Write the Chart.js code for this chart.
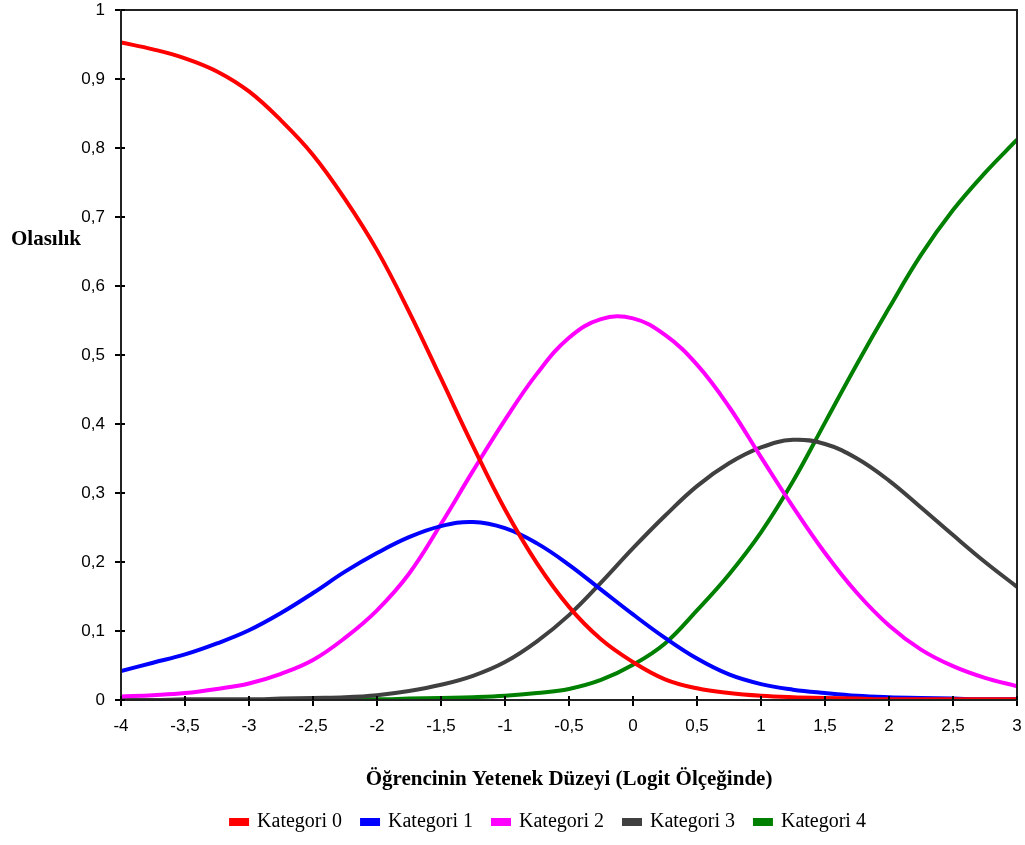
<!DOCTYPE html>
<html>
<head>
<meta charset="UTF-8">
<title>Kategori Olasılık Eğrileri</title>
<script src="https://cdn.jsdelivr.net/npm/chart.js@4.4.1/dist/chart.umd.min.js"></script>
<style>
    html, body { margin: 0; padding: 0; background: #fff; }
    #wrap { width: 1025px; height: 845px; }
</style>
</head>
<body>
<div id="wrap"><canvas id="chart" width="1025" height="845"></canvas></div>
<script>
// yetenek (logit) noktaları
var thetas = [-4, -3.75, -3.5, -3.25, -3, -2.75, -2.5, -2.25, -2, -1.75, -1.5, -1.25, -1, -0.75, -0.5,
              -0.25, 0, 0.25, 0.5, 0.75, 1, 1.25, 1.5, 1.75, 2, 2.25, 2.5, 2.75, 3];

var kategori0 = [0.953, 0.943, 0.930, 0.911, 0.882, 0.840, 0.790, 0.726, 0.652, 0.563, 0.466, 0.368, 0.276, 0.198, 0.135,
                 0.088, 0.055, 0.030, 0.017, 0.010, 0.006, 0.004, 0.003, 0.002, 0.001, 0.001, 0.001, 0.001, 0.001];
var kategori1 = [0.042, 0.054, 0.066, 0.082, 0.101, 0.126, 0.155, 0.186, 0.213, 0.236, 0.252, 0.258, 0.249, 0.227, 0.196,
                 0.160, 0.124, 0.090, 0.060, 0.037, 0.023, 0.015, 0.010, 0.006, 0.004, 0.003, 0.002, 0.001, 0.001];
var kategori2 = [0.005, 0.007, 0.010, 0.016, 0.024, 0.038, 0.058, 0.090, 0.130, 0.183, 0.255, 0.332, 0.406, 0.473, 0.525,
                 0.552, 0.553, 0.529, 0.486, 0.425, 0.352, 0.280, 0.213, 0.155, 0.108, 0.073, 0.049, 0.032, 0.020];
var kategori3 = [0.000, 0.000, 0.001, 0.001, 0.001, 0.002, 0.003, 0.004, 0.007, 0.013, 0.022, 0.035, 0.055, 0.085, 0.123,
                 0.170, 0.220, 0.267, 0.310, 0.343, 0.366, 0.377, 0.371, 0.350, 0.318, 0.279, 0.239, 0.200, 0.164];
var kategori4 = [0.000, 0.000, 0.000, 0.000, 0.000, 0.000, 0.001, 0.001, 0.001, 0.002, 0.003, 0.004, 0.006, 0.010, 0.016,
                 0.029, 0.051, 0.082, 0.130, 0.182, 0.243, 0.317, 0.402, 0.487, 0.568, 0.645, 0.710, 0.764, 0.812];

var seriesNames = ['Kategori 0', 'Kategori 1', 'Kategori 2', 'Kategori 3', 'Kategori 4'];
var seriesValues = [kategori0, kategori1, kategori2, kategori3, kategori4];
var seriesColors = ['#ff0000', '#0000ff', '#ff00ff', '#404040', '#008000'];

var xMin = -4, xMax = 3, xStep = 0.5;
var yMin = 0, yMax = 1, yStep = 0.1;

var yTitle = 'Olasılık';
var xTitle = 'Öğrencinin Yetenek Düzeyi (Logit Ölçeğinde)';

function virgul(v) {
    return String(Math.round(v * 10) / 10).replace('.', ',');
}

function points(vals) {
    return thetas.map(function(t, i) { return { x: t, y: vals[i] }; });
}

var datasets = seriesNames.map(function(name, i) {
    return {
        label: name,
        data: points(seriesValues[i]),
        borderColor: seriesColors[i],
        backgroundColor: seriesColors[i],
        borderWidth: 4,
        pointRadius: 0,
        tension: 0.4,
        fill: false
    };
});

// çerçeve, iç tik çizgileri ve yatay y başlığı
var frame = {
    id: 'frame',
    afterDraw: function(chart) {
        var ctx = chart.ctx, a = chart.chartArea;
        var xs = chart.scales.x, ys = chart.scales.y;
        ctx.save();
        ctx.strokeStyle = '#222';
        ctx.lineWidth = 2;
        ctx.strokeRect(a.left, a.top, a.right - a.left, a.bottom - a.top);
        ctx.beginPath();
        xs.ticks.forEach(function(t) {
            var px = Math.round(xs.getPixelForValue(t.value));
            ctx.moveTo(px, a.bottom);
            ctx.lineTo(px, a.bottom - 4);
        });
        ys.ticks.forEach(function(t) {
            var py = Math.round(ys.getPixelForValue(t.value));
            ctx.moveTo(a.left, py);
            ctx.lineTo(a.left + 4, py);
        });
        ctx.strokeStyle = '#000';
        ctx.stroke();
        ctx.fillStyle = '#000';
        ctx.font = 'bold 21px "Liberation Serif", "Times New Roman", serif';
        ctx.textAlign = 'left';
        ctx.textBaseline = 'middle';
        ctx.fillText(yTitle, 11, ys.getPixelForValue(0.667));
        ctx.restore();
    }
};

var ctx = document.getElementById('chart').getContext('2d');
new Chart(ctx, {
    type: 'line',
    data: { datasets: datasets },
    options: {
        responsive: false,
        animation: false,
        layout: { padding: { left: 80, right: 8, top: 10, bottom: 3 } },
        plugins: {
            legend: {
                position: 'bottom',
                labels: {
                    boxWidth: 16,
                    boxHeight: 4,
                    padding: 20,
                    color: '#000',
                    font: { family: '"Liberation Serif", "Times New Roman", serif', size: 20 }
                }
            },
            tooltip: { enabled: false }
        },
        scales: {
            x: {
                type: 'linear',
                min: xMin,
                max: xMax,
                afterFit: function(s) { s.height = 92; s.paddingLeft = 0; s.paddingRight = 0; },
                border: { color: '#000', width: 2 },
                grid: { drawOnChartArea: false, drawTicks: true, tickLength: 6, tickColor: '#000', lineWidth: 2 },
                ticks: {
                    stepSize: xStep,
                    padding: 10,
                    maxRotation: 0,
                    autoSkip: false,
                    color: '#000',
                    font: { family: '"Liberation Sans", Arial, sans-serif', size: 17 },
                    callback: function(v) { return virgul(v); }
                },
                title: {
                    display: true,
                    text: xTitle,
                    color: '#000',
                    padding: { top: 0, bottom: 0 },
                    font: { family: '"Liberation Serif", "Times New Roman", serif', size: 21, weight: 'bold' }
                }
            },
            y: {
                min: yMin,
                max: yMax,
                afterFit: function(s) { s.width = 41; s.paddingTop = 0; s.paddingBottom = 0; },
                border: { color: '#000', width: 2 },
                grid: { drawOnChartArea: false, drawTicks: true, tickLength: 6, tickColor: '#000', lineWidth: 2 },
                ticks: {
                    stepSize: yStep,
                    padding: 10,
                    color: '#000',
                    font: { family: '"Liberation Sans", Arial, sans-serif', size: 17 },
                    callback: function(v) { return virgul(v); }
                }
            }
        }
    },
    plugins: [frame]
});
</script>
</body>
</html>
